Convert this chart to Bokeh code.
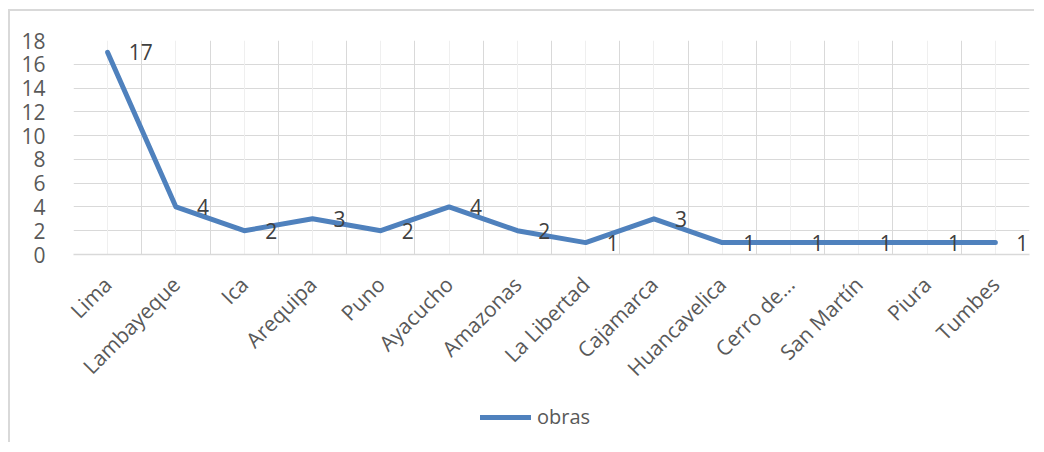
import math
from bokeh.plotting import figure
from bokeh.layouts import column
from bokeh.models import (ColumnDataSource, FixedTicker, CustomJSTickFormatter, Grid,
                          Legend, LegendItem, Range1d)
from bokeh.core.properties import value
from bokeh.embed import file_html
from bokeh.resources import INLINE

categories = ["Lima", "Lambayeque", "Ica", "Arequipa", "Puno", "Ayacucho", "Amazonas",
              "La Libertad", "Cajamarca", "Huancavelica", "Cerro de...", "San Martín",
              "Piura", "Tumbes"]
obras = [17, 4, 2, 3, 2, 4, 2, 1, 3, 1, 1, 1, 1, 1]
y_ticks = [0, 2, 4, 6, 8, 10, 12, 14, 16, 18]
series_name = "obras"

FONT = "Open Sans"
LINE_COLOR = "#4F81BD"
GRID = "#D9D9D9"
GRID_MINOR = "#EFEFEF"
TXT = "#595959"

n = len(categories)
xs = [i + 0.5 for i in range(n)]
src = ColumnDataSource(dict(x=xs, y=obras, lab=[str(v) for v in obras]))

p = figure(width=1024, height=383, output_backend="svg", toolbar_location=None,
           x_range=Range1d(0, n), y_range=Range1d(y_ticks[0], y_ticks[-1]),
           min_border_left=63, min_border_right=5, min_border_top=29, min_border_bottom=140,
           background_fill_color="white", border_fill_color="white")
p.outline_line_color = None

# grids
p.xgrid.visible = False
p.ygrid.ticker = FixedTicker(ticks=y_ticks)
p.ygrid.grid_line_color = GRID
p.ygrid.grid_line_width = 1
minor_grid = Grid(dimension=0, ticker=FixedTicker(ticks=xs), grid_line_color=GRID_MINOR,
                  grid_line_width=1)
major_grid = Grid(dimension=0, ticker=FixedTicker(ticks=list(range(n + 1))),
                  grid_line_color=GRID, grid_line_width=1)
p.add_layout(minor_grid)
p.add_layout(major_grid)

# y axis
p.yaxis.ticker = FixedTicker(ticks=y_ticks)
p.yaxis.axis_line_color = None
p.yaxis.major_tick_line_color = None
p.yaxis.minor_tick_line_color = None
p.yaxis.major_label_text_font = FONT
p.yaxis.major_label_text_font_size = "21px"
p.yaxis.major_label_text_color = TXT
p.yaxis.major_label_standoff = 22

# x axis
p.xaxis.ticker = FixedTicker(ticks=xs)
p.xaxis.formatter = CustomJSTickFormatter(args=dict(labels=categories),
                                          code="return labels[Math.floor(tick)];")
p.xaxis.axis_line_color = GRID
p.xaxis.axis_line_width = 1.5
p.xaxis.major_tick_line_color = None
p.xaxis.minor_tick_line_color = None
p.xaxis.major_label_orientation = math.pi / 4
p.xaxis.major_label_text_font = FONT
p.xaxis.major_label_text_font_size = "21px"
p.xaxis.major_label_text_color = TXT
p.xaxis.major_label_standoff = 20

p.line("x", "y", source=src, line_color=LINE_COLOR, line_width=5,
       line_cap="round", line_join="round")
p.text("x", "y", text="lab", source=src, x_offset=21, text_align="left",
       text_baseline="middle", text_font=value(FONT), text_font_size="21px",
       text_color="#404040")

# legend strip (its line renderer lies outside the visible range; only the legend shows)
p2 = figure(width=1024, height=48, output_backend="svg", toolbar_location=None,
            x_range=Range1d(0, 1), y_range=Range1d(-100, -99), x_axis_type=None,
            y_axis_type=None, min_border=0, background_fill_color="white",
            border_fill_color="white")
p2.outline_line_color = None
p2.grid.visible = False
lr = p2.line("x", "y", source=src, line_color=LINE_COLOR, line_width=5, line_cap="round")
legend = Legend(items=[LegendItem(label=series_name, renderers=[lr])], location=(407, 12),
                orientation="horizontal", padding=0, margin=0, spacing=0,
                glyph_width=51, glyph_height=20, label_height=20, label_standoff=6,
                label_text_font=FONT, label_text_font_size="20px", label_text_color=TXT,
                border_line_color=None, background_fill_alpha=0)
p2.add_layout(legend)

layout = column(p, p2, spacing=0)
layout.styles = {"border-left": "2px solid #D9D9D9", "border-top": "2px solid #D9D9D9",
                 "margin-left": "8px", "margin-top": "9px"}

open("out.html", "w").write(file_html(layout, INLINE))
